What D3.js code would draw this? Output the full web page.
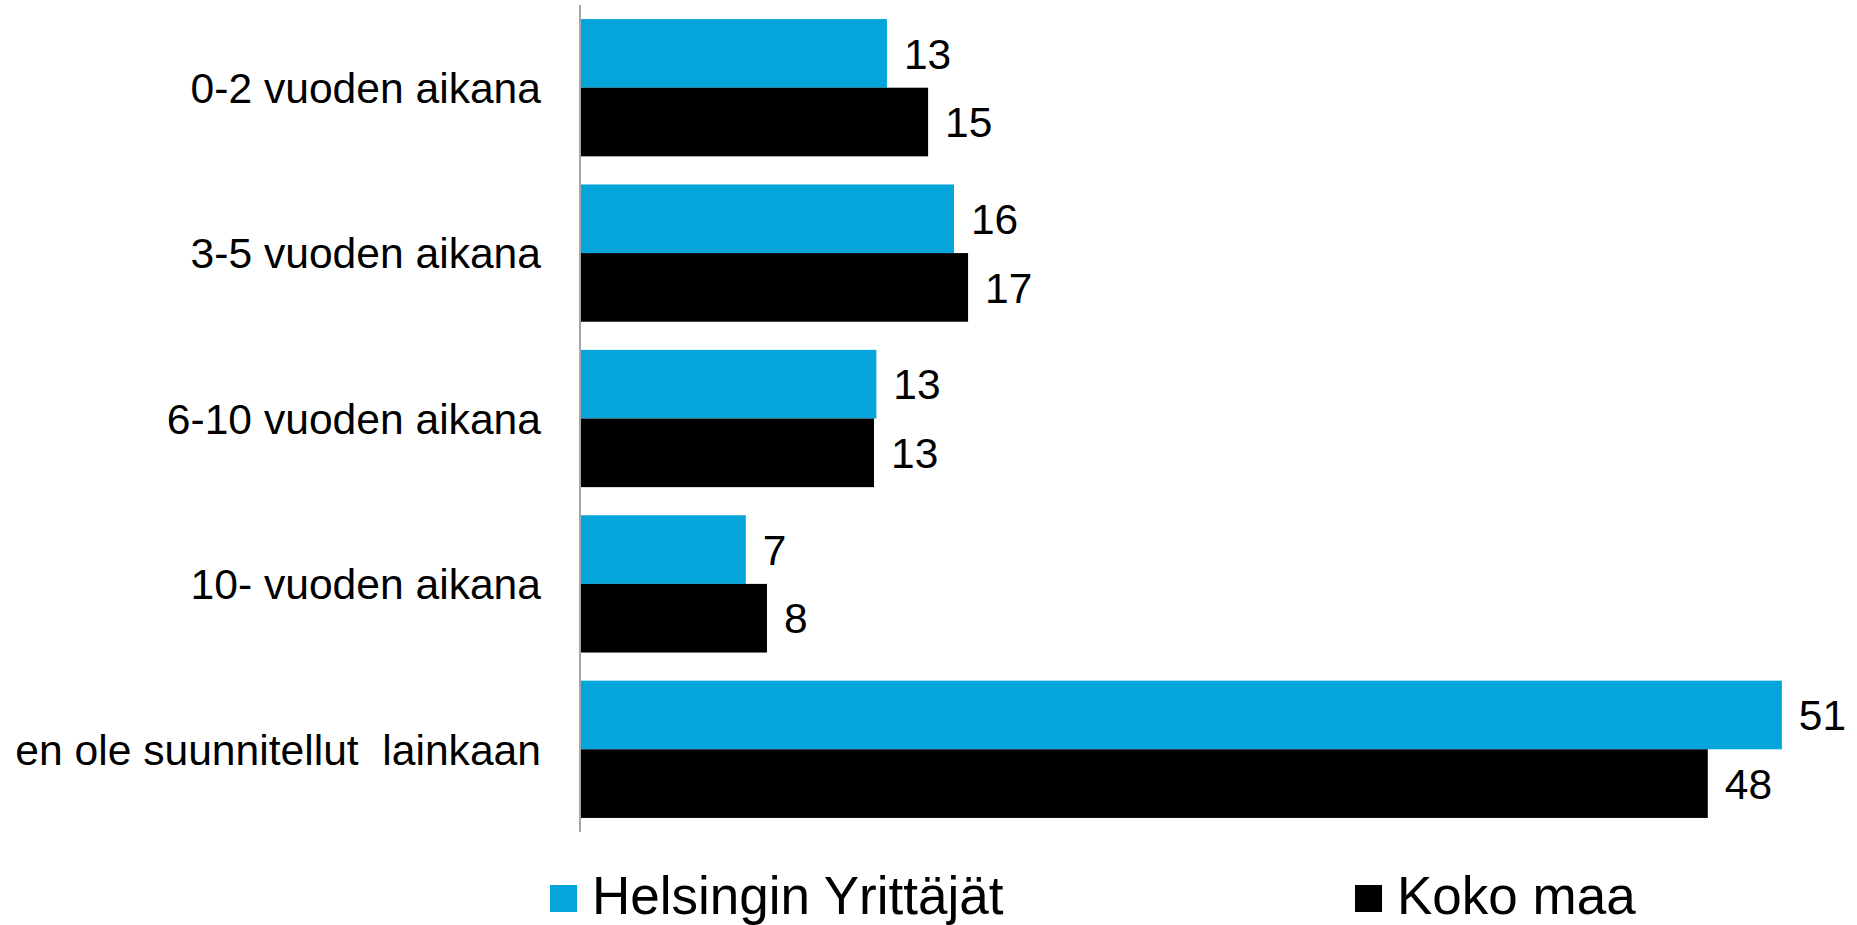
<!DOCTYPE html>
<html>
<head>
<meta charset="utf-8">
<script src="https://cdn.jsdelivr.net/npm/d3@7"></script>
<style>
  html, body { margin: 0; padding: 0; background: #fff; }
  svg { display: block; font-family: "Liberation Sans", Arial, sans-serif; }
  text { white-space: pre; }
</style>
</head>
<body>
<svg id="chart" width="1857" height="925"></svg>
<script>
const categories = [
  "0-2 vuoden aikana",
  "3-5 vuoden aikana",
  "6-10 vuoden aikana",
  "10- vuoden aikana",
  "en ole suunnitellut  lainkaan"
];
const seriesNames = ["Helsingin Yrittäjät", "Koko maa"];
const helsinkiValues = [13.05, 15.9, 12.6, 7.05, 51.1];
const kokoMaaValues  = [14.8, 16.5, 12.5, 7.95, 47.95];
const seriesColors = ["#03A5DA", "#000000"];

const svg = d3.select("#chart");
const axisX = 580;

const x = d3.scaleLinear().domain([0, 60]).range([axisX, axisX + 60 * 23.52]);
const y = d3.scaleBand().domain(categories).range([5, 832]).paddingInner(0.17).paddingOuter(0.085);
const ySub = d3.scaleBand().domain(seriesNames).range([0, y.bandwidth()]);

const series = [helsinkiValues, kokoMaaValues];
const rows = [];
series.forEach((vals, si) => {
  vals.forEach((v, ci) => rows.push({ cat: categories[ci], s: seriesNames[si], si, v }));
});

// bars
svg.append("g").selectAll("rect").data(rows).join("rect")
  .attr("x", x(0))
  .attr("y", d => y(d.cat) + ySub(d.s))
  .attr("width", d => x(d.v) - x(0))
  .attr("height", ySub.bandwidth())
  .attr("fill", d => seriesColors[d.si]);

// value labels
svg.append("g").selectAll("text").data(rows).join("text")
  .attr("x", d => x(d.v) + 17)
  .attr("y", d => y(d.cat) + ySub(d.s) + ySub.bandwidth() / 2)
  .attr("dy", "0.357em")
  .attr("font-size", 42.5)
  .attr("fill", "#000")
  .text(d => Math.round(d.v));

// y axis line
const yAxis = d3.axisLeft(y).tickSize(0).tickPadding(39);
const gAxis = svg.append("g").attr("transform", `translate(${axisX},0)`).call(yAxis);
gAxis.select(".domain").attr("stroke", "#A6A6A6").attr("stroke-width", 2).attr("d", "M0,5V832");
gAxis.selectAll(".tick text")
  .attr("font-size", 42.6)
  .attr("font-family", "'Liberation Sans', Arial, sans-serif")
  .attr("fill", "#000")
  .attr("dy", "0.357em");

// legend
const legendX = [550, 1355];
const legend = svg.append("g").selectAll("g").data(seriesNames).join("g")
  .attr("transform", (d, i) => `translate(${legendX[i]},0)`);
legend.append("rect")
  .attr("x", 0).attr("y", 885).attr("width", 27).attr("height", 27)
  .attr("fill", (d, i) => seriesColors[i]);
legend.append("text")
  .attr("x", 42).attr("y", 914)
  .attr("font-size", 53)
  .attr("fill", "#000")
  .text(d => d);
</script>
</body>
</html>
